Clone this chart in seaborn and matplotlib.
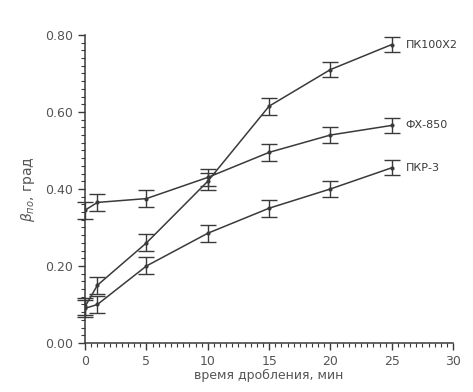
import matplotlib
matplotlib.use("Agg")
import matplotlib.pyplot as plt
import seaborn as sns
import pandas as pd
from matplotlib.ticker import MultipleLocator

# grinding time, min
time_min = [0, 1, 5, 10, 15, 20, 25]
# beta values, rad
pk100x2 = [0.095, 0.150, 0.260, 0.420, 0.615, 0.710, 0.775]
fx850 = [0.345, 0.365, 0.375, 0.430, 0.495, 0.540, 0.565]
pkr3 = [0.090, 0.100, 0.200, 0.285, 0.350, 0.400, 0.455]
err = [0.022, 0.022, 0.022, 0.022, 0.022, 0.020, 0.020]
series_names = ["ПК100Х2", "ФХ-850", "ПКР-3"]

df = pd.concat([
    pd.DataFrame({"t": time_min, "beta": v, "err": err, "name": n})
    for n, v in zip(series_names, [pk100x2, fx850, pkr3])
])

sns.set_style("ticks")
plt.rcParams["font.family"] = ["DejaVu Sans"]
ink = "#3a3a3a"

fig = plt.figure(figsize=(4.73, 3.92), dpi=100)
ax = fig.add_axes([0.18, 0.125, 0.778, 0.786])

sns.lineplot(data=df, x="t", y="beta", hue="name", ax=ax, legend=False,
             palette=[ink] * 3, lw=1.1, marker="o", markersize=3,
             markeredgewidth=0)
for name, g in df.groupby("name"):
    eb = ax.errorbar(g["t"], g["beta"], yerr=g["err"], fmt="none",
                     ecolor=ink, elinewidth=1.0, capsize=6, capthick=1.0)
    for art in eb.lines[1] + eb.lines[2]:
        art.set_clip_on(False)
    last = g.iloc[-1]
    ax.annotate(name, (last["t"], last["beta"]), xytext=(10, 0),
                textcoords="offset points", va="center", ha="left",
                fontsize=8, color=ink)

ax.set_xlim(0, 30)
ax.set_ylim(0, 0.80)
ax.xaxis.set_major_locator(MultipleLocator(5))
ax.xaxis.set_minor_locator(MultipleLocator(0.5))
ax.yaxis.set_major_locator(MultipleLocator(0.2))
ax.yaxis.set_minor_locator(MultipleLocator(0.02))
ax.yaxis.set_major_formatter(matplotlib.ticker.FormatStrFormatter("%.2f"))
ax.tick_params(which="major", length=5, width=1, color=ink, labelsize=9,
               labelcolor="#555555")
ax.tick_params(which="minor", length=3, width=0.8, color=ink)
sns.despine(ax=ax)
for s in ["left", "bottom"]:
    ax.spines[s].set_color(ink)
    ax.spines[s].set_linewidth(1.1)
ax.set_xlabel("время дробления, мин", fontsize=9, color="#555555", labelpad=1)
ax.set_ylabel(r"$\beta_{по}$, град", fontsize=10, color="#555555", labelpad=6)

fig.savefig("out.png", dpi=100)
